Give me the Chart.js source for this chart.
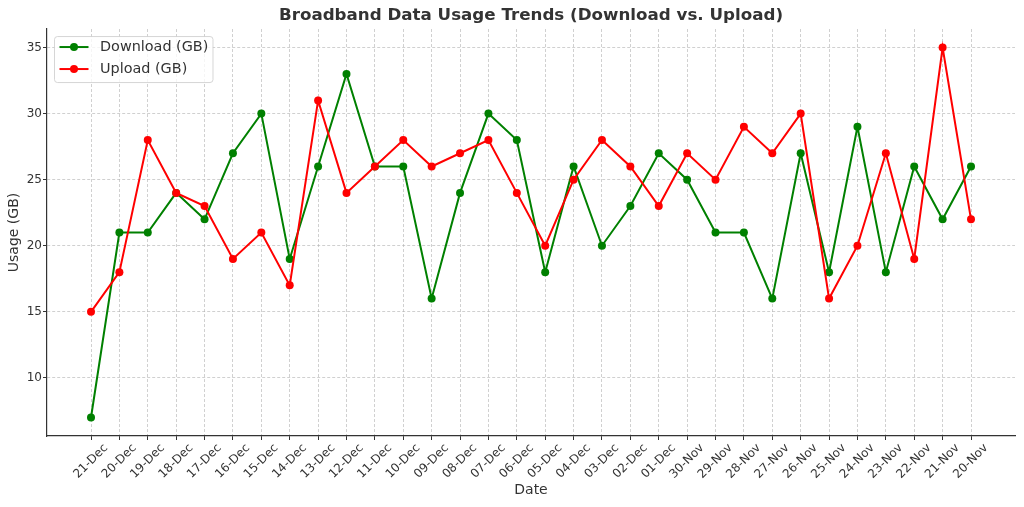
<!DOCTYPE html>
<html><head><meta charset="utf-8">
<script src="https://cdn.jsdelivr.net/npm/chart.js@4/dist/chart.umd.min.js"></script>
<style>html,body{margin:0;padding:0;background:#fff;overflow:hidden;}</style>
</head><body>
<canvas id="c" width="1024" height="507" style="width:1024px;height:507px;display:block"></canvas>
<script>
const dates = ['21-Dec','20-Dec','19-Dec','18-Dec','17-Dec','16-Dec','15-Dec','14-Dec','13-Dec','12-Dec','11-Dec','10-Dec','09-Dec','08-Dec','07-Dec','06-Dec','05-Dec','04-Dec','03-Dec','02-Dec','01-Dec','30-Nov','29-Nov','28-Nov','27-Nov','26-Nov','25-Nov','24-Nov','23-Nov','22-Nov','21-Nov','20-Nov'];
const download = [7,21,21,24,22,27,30,19,26,33,26,26,16,24,30,28,18,26,20,23,27,25,21,21,16,27,18,29,18,26,22,26];
const upload = [15,18,28,24,23,19,21,17,31,24,26,28,26,27,28,24,20,25,28,26,23,27,25,29,27,30,16,20,27,19,35,22];
const yTicks = [10,15,20,25,30,35];

const FAMILY = "'DejaVu Sans', sans-serif";
const TEXT = '#333333';
Chart.defaults.font.family = FAMILY;
Chart.defaults.color = TEXT;

const toPoints = arr => arr.map((v, i) => ({x: i, y: v}));

const legendPlugin = {
  id: 'boxLegend',
  afterDraw(chart) {
    const ctx = chart.ctx, ca = chart.chartArea;
    const x0 = ca.left + 7.5, y0 = ca.top + 7.5, w = 158.5, h = 46;
    ctx.save();
    ctx.beginPath();
    if (ctx.roundRect) ctx.roundRect(x0, y0, w, h, 3); else ctx.rect(x0, y0, w, h);
    ctx.fillStyle = 'rgba(255,255,255,0.8)';
    ctx.fill();
    ctx.strokeStyle = 'rgba(204,204,204,0.8)';
    ctx.lineWidth = 1;
    ctx.stroke();
    const entries = chart.data.datasets.slice().sort((a, b) => a.legendIndex - b.legendIndex);
    entries.forEach((ds, i) => {
      const cy = y0 + 10.5 + i * 22;
      ctx.strokeStyle = ds.borderColor;
      ctx.lineWidth = 2;
      ctx.beginPath();
      ctx.moveTo(x0 + 5, cy);
      ctx.lineTo(x0 + 34, cy);
      ctx.stroke();
      ctx.fillStyle = ds.borderColor;
      ctx.beginPath();
      ctx.arc(x0 + 19.5, cy, 4, 0, Math.PI * 2);
      ctx.fill();
      ctx.fillStyle = TEXT;
      ctx.font = '14.4px ' + FAMILY;
      ctx.textAlign = 'left';
      ctx.textBaseline = 'middle';
      ctx.fillText(ds.label, x0 + 45.5, cy + 0.5);
    });
    ctx.restore();
  }
};

const gridColor = 'rgba(176,176,176,0.6)';

new Chart(document.getElementById('c'), {
  type: 'line',
  data: {
    datasets: [
      {label: 'Download (GB)', legendIndex: 0, order: 1, data: toPoints(download), borderColor: '#008000', backgroundColor: '#008000', borderWidth: 2, pointRadius: 4, pointBorderWidth: 0, pointBackgroundColor: '#008000', tension: 0, fill: false},
      {label: 'Upload (GB)', legendIndex: 1, order: 0, data: toPoints(upload), borderColor: '#ff0000', backgroundColor: '#ff0000', borderWidth: 2, pointRadius: 4, pointBorderWidth: 0, pointBackgroundColor: '#ff0000', tension: 0, fill: false}
    ]
  },
  options: {
    responsive: false,
    animation: false,
    devicePixelRatio: 1,
    layout: {padding: {left: 0, right: 9, top: 0, bottom: 0}},
    plugins: {
      legend: {display: false},
      tooltip: {enabled: false},
      title: {
        display: true,
        text: 'Broadband Data Usage Trends (Download vs. Upload)',
        fullSize: false,
        color: TEXT,
        font: {size: 16.7, weight: 'bold', family: FAMILY},
        padding: {top: 6, bottom: 3}
      }
    },
    scales: {
      x: {
        type: 'linear',
        min: -1.55,
        max: 32.55,
        offset: false,
        afterBuildTicks: s => { s.ticks = dates.map((d, i) => ({value: i})); },
        afterFit: s => { s.height = 71; },
        ticks: {
          autoSkip: false,
          minRotation: 45,
          maxRotation: 45,
          labelOffset: 15,
          padding: 1,
          color: TEXT,
          font: {size: 12, family: FAMILY},
          callback: v => dates[v]
        },
        grid: {color: gridColor, lineWidth: 1, tickLength: 4, tickColor: '#333333', tickWidth: 1, tickBorderDash: []},
        border: {display: true, color: '#333333', width: 1.2, dash: [3, 2]},
        title: {display: true, text: 'Date', color: TEXT, font: {size: 14, family: FAMILY}, padding: {top: 0, bottom: 8}}
      },
      y: {
        type: 'linear',
        min: 5.6,
        max: 36.4,
        afterBuildTicks: s => { s.ticks = yTicks.map(v => ({value: v})); },
        afterFit: s => { s.width = 47; },
        ticks: {padding: 1, color: TEXT, font: {size: 12, family: FAMILY}},
        grid: {color: gridColor, lineWidth: 1, tickLength: 4, tickColor: '#333333', tickWidth: 1, tickBorderDash: []},
        border: {display: true, color: '#333333', width: 1.2, dash: [3, 2]},
        title: {display: true, text: 'Usage (GB)', color: TEXT, font: {size: 14, family: FAMILY}, padding: {top: 5.6, bottom: 0}}
      }
    }
  },
  plugins: [legendPlugin]
});
</script>
</body></html>
